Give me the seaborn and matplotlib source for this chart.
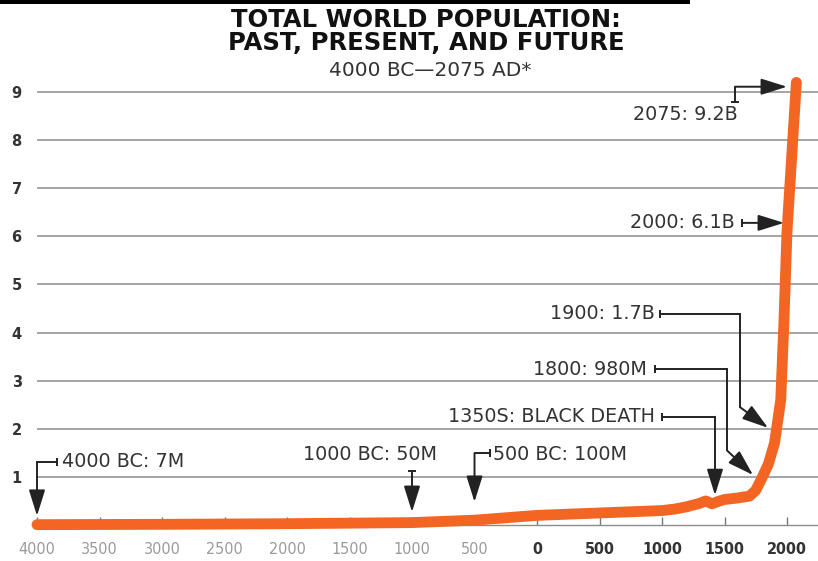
import matplotlib
matplotlib.use("Agg")
import matplotlib.pyplot as plt
from matplotlib.patches import Rectangle
import seaborn as sns
import pandas as pd

# World population estimates (billions) by year; negative years are BC
years = [-4000, -3000, -2000, -1000, -500, 0, 500, 1000, 1100, 1200, 1300,
         1350, 1400, 1450, 1500, 1600, 1700, 1750, 1800, 1850, 1900, 1950,
         1975, 2000, 2075]
population = [0.007, 0.014, 0.027, 0.05, 0.1, 0.2, 0.25, 0.3, 0.33, 0.38, 0.45,
              0.5, 0.44, 0.49, 0.53, 0.56, 0.6, 0.72, 0.98, 1.26, 1.7, 2.6,
              4.2, 6.1, 9.2]

x_ticks = [-4000, -3500, -3000, -2500, -2000, -1500, -1000, -500,
           0, 500, 1000, 1500, 2000]
x_tick_labels = ["4000", "3500", "3000", "2500", "2000", "1500", "1000", "500",
                 "0", "500", "1000", "1500", "2000"]
y_ticks = [1, 2, 3, 4, 5, 6, 7, 8, 9]

title_lines = ["TOTAL WORLD POPULATION:", "PAST, PRESENT, AND FUTURE"]
subtitle = "4000 BC\u20142075 AD*"

ORANGE = "#F26522"
INK = "#222222"
GRID = "#8c8c8c"

sns.set_theme(style="white")
plt.rcParams["font.family"] = ["DejaVu Sans"]

df = pd.DataFrame({"year": years, "population": population})

fig = plt.figure(figsize=(8.18, 5.61), dpi=100)
ax = fig.add_axes([37 / 818, 36 / 561, 781 / 818, 458 / 561])

sns.lineplot(data=df, x="year", y="population", ax=ax, color=ORANGE,
             linewidth=7.8, solid_capstyle="round", solid_joinstyle="round",
             clip_on=False, zorder=3, sort=False, estimator=None)

ax.set_xlim(-4000, 2248)
ax.set_ylim(0, 9.52)
ax.set_xlabel("")
ax.set_ylabel("")

# horizontal guide lines
ax.set_yticks(y_ticks)
ax.set_yticklabels([str(v) for v in y_ticks], fontsize=10.5,
                   fontweight="bold", color="#333333")
ax.yaxis.grid(True, color=GRID, linewidth=1.1)
ax.xaxis.grid(False)
ax.set_axisbelow(True)
ax.tick_params(axis="y", length=0, pad=11)

for side in ("top", "left", "right"):
    ax.spines[side].set_visible(False)
ax.spines["bottom"].set_color(GRID)
ax.spines["bottom"].set_linewidth(1.0)

ax.set_xticks(x_ticks)
ax.set_xticklabels(x_tick_labels)
ax.tick_params(axis="x", direction="in", length=6, width=1, color="#777777",
               pad=12, bottom=True)
for lab, t in zip(ax.get_xticklabels(), x_ticks):
    lab.set_fontsize(11.5)
    lab.set_fontstretch("condensed")
    if t < 0:
        lab.set_color("#9a9a9a")
    else:
        lab.set_color("#333333")
        lab.set_fontweight("bold")

# annotation callouts: text, text anchor, bracket path, arrow tip, cap marker
notes = [
    ("4000 BC: 7M", (-3800, 1.33), "left", [(-3840, 1.31), (-4000, 1.31)],
     (-4000, 0.19), "|"),
    ("1000 BC: 50M", (-1336, 1.46), "center", [(-1000, 1.12)],
     (-1000, 0.27), "_"),
    ("500 BC: 100M", (-352, 1.46), "left", [(-376, 1.49), (-500, 1.49)],
     (-500, 0.48), "|"),
    ("1350S: BLACK DEATH", (944, 2.25), "right", [(1000, 2.25), (1424, 2.25)],
     (1424, 0.62), "|"),
    ("1800: 980M", (880, 3.24), "right",
     [(944, 3.24), (1520, 3.24), (1520, 1.55)], (1728, 1.04), "|"),
    ("1900: 1.7B", (944, 4.39), "right",
     [(984, 4.39), (1624, 4.39), (1624, 2.45)], (1848, 2.02), "|"),
    ("2000: 6.1B", (1584, 6.28), "right", [(1640, 6.28)], (1976, 6.28), "|"),
    ("2075: 9.2B", (1608, 8.54), "right", [(1584, 8.79), (1584, 9.11)],
     (2000, 9.11), "_"),
]

for text, (tx, ty), ha, path, tip, cap in notes:
    ax.text(tx, ty, text, ha=ha, va="center", fontsize=13.8, color="#333333",
            zorder=5)
    xs = [p[0] for p in path]
    ys = [p[1] for p in path]
    if len(path) > 1:
        ax.plot(xs, ys, color=INK, lw=1.4, clip_on=False, zorder=4,
                solid_joinstyle="miter")
    ax.plot([xs[0]], [ys[0]], marker=cap, markersize=6, markeredgewidth=1.4,
            color=INK, clip_on=False, zorder=4)
    ax.annotate("", xy=tip, xytext=path[-1], zorder=4,
                arrowprops=dict(arrowstyle="-|>,head_length=1.6,head_width=0.5",
                                mutation_scale=10, color=INK, lw=1.4,
                                shrinkA=0, shrinkB=0))

# titles
fig.text(0.521, 1 - 20 / 561, title_lines[0], ha="center", va="center",
         fontsize=17.5, fontweight="bold", color="#111111")
fig.text(0.521, 1 - 43 / 561, title_lines[1], ha="center", va="center",
         fontsize=17.5, fontweight="bold", color="#111111")
fig.text(0.526, 1 - 71 / 561, subtitle, ha="center", va="center",
         fontsize=14.5, color="#333333")

# rule across the top edge
fig.add_artist(Rectangle((0, 1 - 4 / 561), 690 / 818, 4 / 561,
                         transform=fig.transFigure, color="black", lw=0))

fig.savefig("out.png", dpi=100)
